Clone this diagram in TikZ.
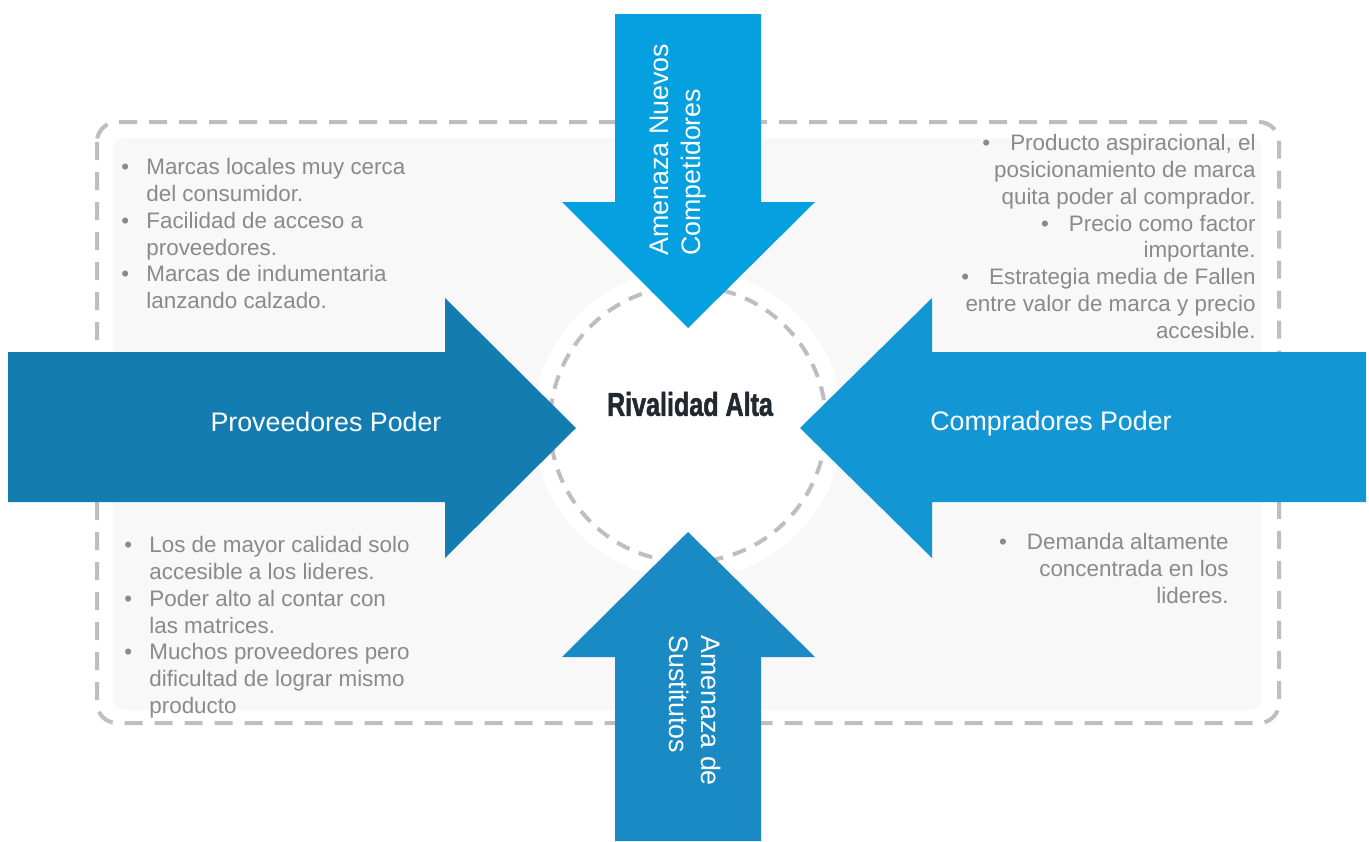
\documentclass[tikz,border=0pt]{standalone}
\usepackage{fontspec}
\setmainfont{Liberation Sans}
\newfontfamily\rivalfont{Liberation Sans}[FakeStretch=0.76,BoldFeatures={FakeBold=1.5}]
\definecolor{dashgray}{HTML}{BEBEC0}
\definecolor{panelgray}{HTML}{F8F8F8}
\definecolor{txtgray}{HTML}{8A8A8A}
\definecolor{blueTop}{HTML}{05A0E0}
\definecolor{blueLeft}{HTML}{137DB1}
\definecolor{blueRight}{HTML}{1296D4}
\definecolor{blueBottom}{HTML}{1A8AC4}
\definecolor{rivalink}{HTML}{22282F}
\newcommand\bul{\makebox[12.5pt][l]{•}}
\newcommand\ind{\hspace*{12.5pt}}
\newcommand\rbul{•\hspace{10pt}}
\tikzset{
  frameline/.style={draw=dashgray, line width=2pt, dash pattern=on 9pt off 6pt},
  arrowlabel/.style={text=white, inner sep=0, font=\fontsize{13.4}{16}\selectfont},
  bullettext/.style={text=txtgray, inner sep=0, font=\fontsize{11.2}{13.4}\selectfont},
}
\begin{document}
\begin{tikzpicture}[x=0.5pt,y=-0.5pt]
  \useasboundingbox (0,0) rectangle (1369,841);
  % outer dashed frame and light panel
  \draw[frameline, rounded corners=10pt] (97,122) rectangle (1279,723);
  \fill[panelgray, rounded corners=5pt] (113,138) rectangle (1262,710);
  % central circle
  \fill[white] (688,424) circle[radius=77.5pt];
  \draw[draw=dashgray, line width=2pt, dash pattern=on 7pt off 5pt] (688,424) circle[radius=69pt];
  % four force arrows
  \fill[blueTop] (615,14) -- (761,14) -- (761,202) -- (815,202) -- (688,328) -- (562,202) -- (615,202) -- cycle;
  \fill[blueBottom] (615,841) -- (615,657) -- (562,657) -- (688,532) -- (815,657) -- (761,657) -- (761,841) -- cycle;
  \fill[blueLeft] (8,352) -- (445,352) -- (445,298) -- (576,428) -- (445,558) -- (445,502) -- (8,502) -- cycle;
  \fill[blueRight] (1366,352) -- (932,352) -- (932,298) -- (800,428) -- (932,558) -- (932,502) -- (1366,502) -- cycle;
  % arrow labels
  \node[arrowlabel] (prov) at (326,422) {Proveedores Poder};
  \node[arrowlabel] (comp) at (1051,424) {Compradores Poder};
  \node[arrowlabel, rotate=90, anchor=west, align=left] (nuevos) at (678,256) {Amenaza Nuevos\\Competidores};
  \node[arrowlabel, rotate=-90, anchor=west, align=left] (sust) at (695,635) {Amenaza de\\Sustitutos};
  % centre
  \node[text=rivalink, inner sep=0, font=\rivalfont\bfseries\fontsize{16.5}{18}\selectfont] (rival) at (690,404) {Rivalidad Alta};
  % bullet lists
  \node[bullettext, anchor=north west, align=left] (tl) at (121,158) {%
    \bul Marcas locales muy cerca\\ \ind del consumidor.\\
    \bul Facilidad de acceso a\\ \ind proveedores.\\
    \bul Marcas de indumentaria\\ \ind lanzando calzado.};
  \node[bullettext, anchor=north west, align=left] (bl) at (124,536) {%
    \bul Los de mayor calidad solo\\ \ind accesible a los lideres.\\
    \bul Poder alto al contar con\\ \ind las matrices.\\
    \bul Muchos proveedores pero\\ \ind dificultad de lograr mismo\\ \ind producto};
  \node[bullettext, anchor=north east, align=right] (tr) at (1256,134) {%
    \rbul Producto aspiracional, el\\ posicionamiento de marca\\ quita poder al comprador.\\
    \rbul Precio como factor\\ importante.\\
    \rbul Estrategia media de Fallen\\ entre valor de marca y precio\\ accesible.};
  \node[bullettext, anchor=north east, align=right] (br) at (1229,533) {%
    \rbul Demanda altamente\\ concentrada en los\\ lideres.};
\end{tikzpicture}
\end{document}
